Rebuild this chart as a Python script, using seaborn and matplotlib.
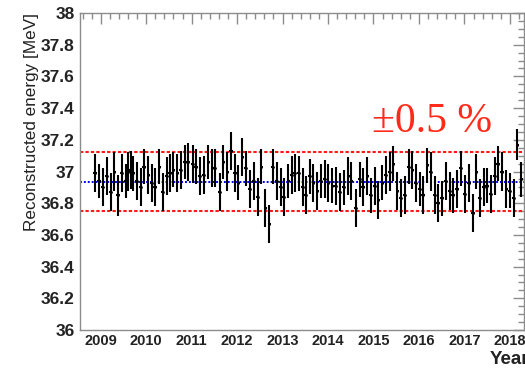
import matplotlib
matplotlib.use("Agg")
import matplotlib.pyplot as plt
from matplotlib.ticker import MultipleLocator, FixedLocator, FuncFormatter
import seaborn as sns
import pandas as pd

# Calibration runs: time (decimal year), reconstructed peak energy and its uncertainty
run_time = [
    2008.875, 2008.963, 2009.044, 2009.132, 2009.220, 2009.299, 2009.380, 2009.462,
    2009.549, 2009.607, 2009.659, 2009.716, 2009.791, 2009.879, 2009.952, 2010.046,
    2010.121, 2010.193, 2010.288, 2010.363, 2010.451, 2010.523, 2010.596, 2010.684,
    2010.758, 2010.853, 2010.925, 2011.022, 2011.095, 2011.182, 2011.270, 2011.365,
    2011.453, 2011.512, 2011.622, 2011.695, 2011.782, 2011.864, 2011.952, 2012.024,
    2012.112, 2012.193, 2012.281, 2012.369, 2012.451, 2012.530, 2012.618, 2012.705,
    2012.780, 2012.868, 2012.956, 2013.029, 2013.123, 2013.198, 2013.270, 2013.358,
    2013.440, 2013.512, 2013.600, 2013.673, 2013.760, 2013.835, 2013.930, 2014.002,
    2014.090, 2014.171, 2014.259, 2014.347, 2014.442, 2014.516, 2014.611, 2014.699,
    2014.770, 2014.864, 2014.941, 2015.029, 2015.101, 2015.189, 2015.270, 2015.358,
    2015.431, 2015.519, 2015.600, 2015.688, 2015.776, 2015.857, 2015.930, 2016.018,
    2016.090, 2016.187, 2016.259, 2016.347, 2016.420, 2016.508, 2016.589, 2016.677,
    2016.749, 2016.837, 2016.919, 2017.007, 2017.101, 2017.189, 2017.264, 2017.336,
    2017.424, 2017.497, 2017.578, 2017.666, 2017.738, 2017.826, 2017.923, 2017.996,
    2018.084, 2018.165, 2018.253,
]
energy = [
    36.99, 36.94, 36.90, 36.97, 36.87, 37.00, 36.85, 36.99,
    36.94, 37.00, 37.01, 36.99, 36.94, 36.90, 37.03, 36.98,
    36.93, 36.90, 37.03, 36.87, 36.97, 36.99, 37.01, 36.99,
    37.01, 37.06, 37.06, 37.05, 37.03, 36.97, 36.98, 37.06,
    37.02, 37.02, 36.87, 37.06, 37.00, 37.13, 36.99, 36.93,
    37.09, 37.02, 36.89, 36.94, 36.84, 37.03, 36.77, 36.67,
    37.03, 36.94, 36.90, 36.84, 36.94, 36.98, 36.99, 36.99,
    36.90, 36.85, 36.97, 36.93, 36.88, 36.94, 36.95, 36.93,
    36.91, 36.91, 36.87, 36.90, 36.97, 36.94, 36.77, 36.95,
    36.90, 36.97, 36.85, 36.91, 36.82, 36.93, 36.98, 37.00,
    37.05, 36.88, 36.83, 36.85, 37.03, 37.01, 36.93, 36.89,
    36.85, 37.04, 37.00, 36.85, 36.80, 36.83, 36.94, 36.88,
    36.85, 36.89, 37.02, 36.86, 36.93, 36.74, 37.00, 36.83,
    36.90, 36.91, 36.86, 36.97, 37.05, 37.00, 36.89, 36.88,
    36.83, 37.17, 36.95,
]
energy_err = [
    0.12, 0.11, 0.12, 0.12, 0.12, 0.12, 0.13, 0.12,
    0.11, 0.12, 0.12, 0.11, 0.12, 0.12, 0.11, 0.12,
    0.12, 0.12, 0.11, 0.12, 0.12, 0.12, 0.11, 0.12,
    0.12, 0.11, 0.12, 0.12, 0.11, 0.12, 0.12, 0.11,
    0.12, 0.12, 0.12, 0.11, 0.12, 0.12, 0.12, 0.11,
    0.12, 0.11, 0.12, 0.12, 0.12, 0.11, 0.12, 0.12,
    0.11, 0.12, 0.12, 0.12, 0.11, 0.12, 0.12, 0.11,
    0.12, 0.12, 0.11, 0.12, 0.12, 0.11, 0.12, 0.12,
    0.11, 0.12, 0.12, 0.11, 0.12, 0.12, 0.12, 0.11,
    0.12, 0.12, 0.11, 0.12, 0.12, 0.11, 0.12, 0.12,
    0.11, 0.12, 0.12, 0.12, 0.11, 0.12, 0.12, 0.11,
    0.12, 0.11, 0.12, 0.12, 0.12, 0.11, 0.12, 0.12,
    0.11, 0.12, 0.11, 0.12, 0.12, 0.12, 0.11, 0.12,
    0.12, 0.11, 0.12, 0.12, 0.11, 0.12, 0.12, 0.11,
    0.12, 0.10, 0.11,
]
bin_halfwidth = 0.035

mean_energy = 36.935
band_lo = 36.75
band_hi = 37.12
band_text = "\u00b10.5 %"

year_ticks = [2009, 2010, 2011, 2012, 2013, 2014, 2015, 2016, 2017, 2018]
y_ticks = [36, 36.2, 36.4, 36.6, 36.8, 37, 37.2, 37.4, 37.6, 37.8, 38]

df = pd.DataFrame({"time": run_time, "energy": energy, "err": energy_err})

sns.set_theme(style="white")
plt.rcParams["font.family"] = ["Liberation Sans", "DejaVu Sans"]

fig = plt.figure(figsize=(5.25, 3.70), dpi=100)
ax = fig.add_axes([80 / 525, 1 - 330 / 370, 444 / 525, 317 / 370])

ax.set_xlim(2008.545, 2018.31)
ax.set_ylim(36, 38)

# reference lines: run average and the +-0.5 % band
ax.axhline(band_hi, color="#ff1a1a", lw=1.5, ls=(0, (1.6, 1.0)), zorder=2)
ax.axhline(band_lo, color="#ff1a1a", lw=1.5, ls=(0, (1.6, 1.0)), zorder=2)
ax.axhline(mean_energy, color="#0000ff", lw=1.4, ls=(0, (1.0, 1.0)), zorder=2)

# measurements with uncertainty bars
ax.errorbar(df["time"], df["energy"], yerr=df["err"], xerr=bin_halfwidth,
            fmt="none", ecolor="black", elinewidth=1.5, capsize=0, zorder=3)
sns.scatterplot(data=df, x="time", y="energy", ax=ax, s=4, color="black",
                linewidth=0, zorder=4, legend=False)

ax.set_xlabel("")
ax.set_ylabel("")

# axis ticks on all four sides, pointing inwards
ax.xaxis.set_major_locator(FixedLocator(year_ticks))
ax.xaxis.set_minor_locator(MultipleLocator(0.2))
ax.xaxis.set_major_formatter(FuncFormatter(lambda v, p: f"{int(round(v))}"))
ax.yaxis.set_major_locator(FixedLocator(y_ticks))
ax.yaxis.set_minor_locator(MultipleLocator(0.05))
ax.yaxis.set_major_formatter(FuncFormatter(lambda v, p: f"{v:g}"))

frame_col = "#8c8c8c"
ax.tick_params(axis="both", which="both", direction="in", top=True, right=True,
               color=frame_col, width=1.0)
ax.tick_params(axis="both", which="major", length=8)
ax.tick_params(axis="both", which="minor", length=4.5)
ax.tick_params(axis="y", which="major", labelsize=12.5, pad=4)
ax.tick_params(axis="x", which="major", labelsize=10.5, pad=3)
for lab in ax.get_xticklabels() + ax.get_yticklabels():
    lab.set_fontweight("bold")
    lab.set_color("#222222")
for sp in ax.spines.values():
    sp.set_color(frame_col)
    sp.set_linewidth(1.0)

fig.text(32 / 525, 1 - 13 / 370, "Reconstructed energy [MeV]", rotation=90,
         ha="center", va="top", fontsize=12.3, color="#222222")
fig.text(490 / 525, 1 - 360 / 370, "Year", ha="left", va="center",
         fontsize=13.5, fontweight="bold", color="#222222")
fig.text(372 / 525, 1 - 132 / 370, band_text, ha="left", va="baseline",
         fontsize=30, color="#ff2a1a", family=["Liberation Serif", "DejaVu Serif"])

fig.savefig("out.png", dpi=100)
